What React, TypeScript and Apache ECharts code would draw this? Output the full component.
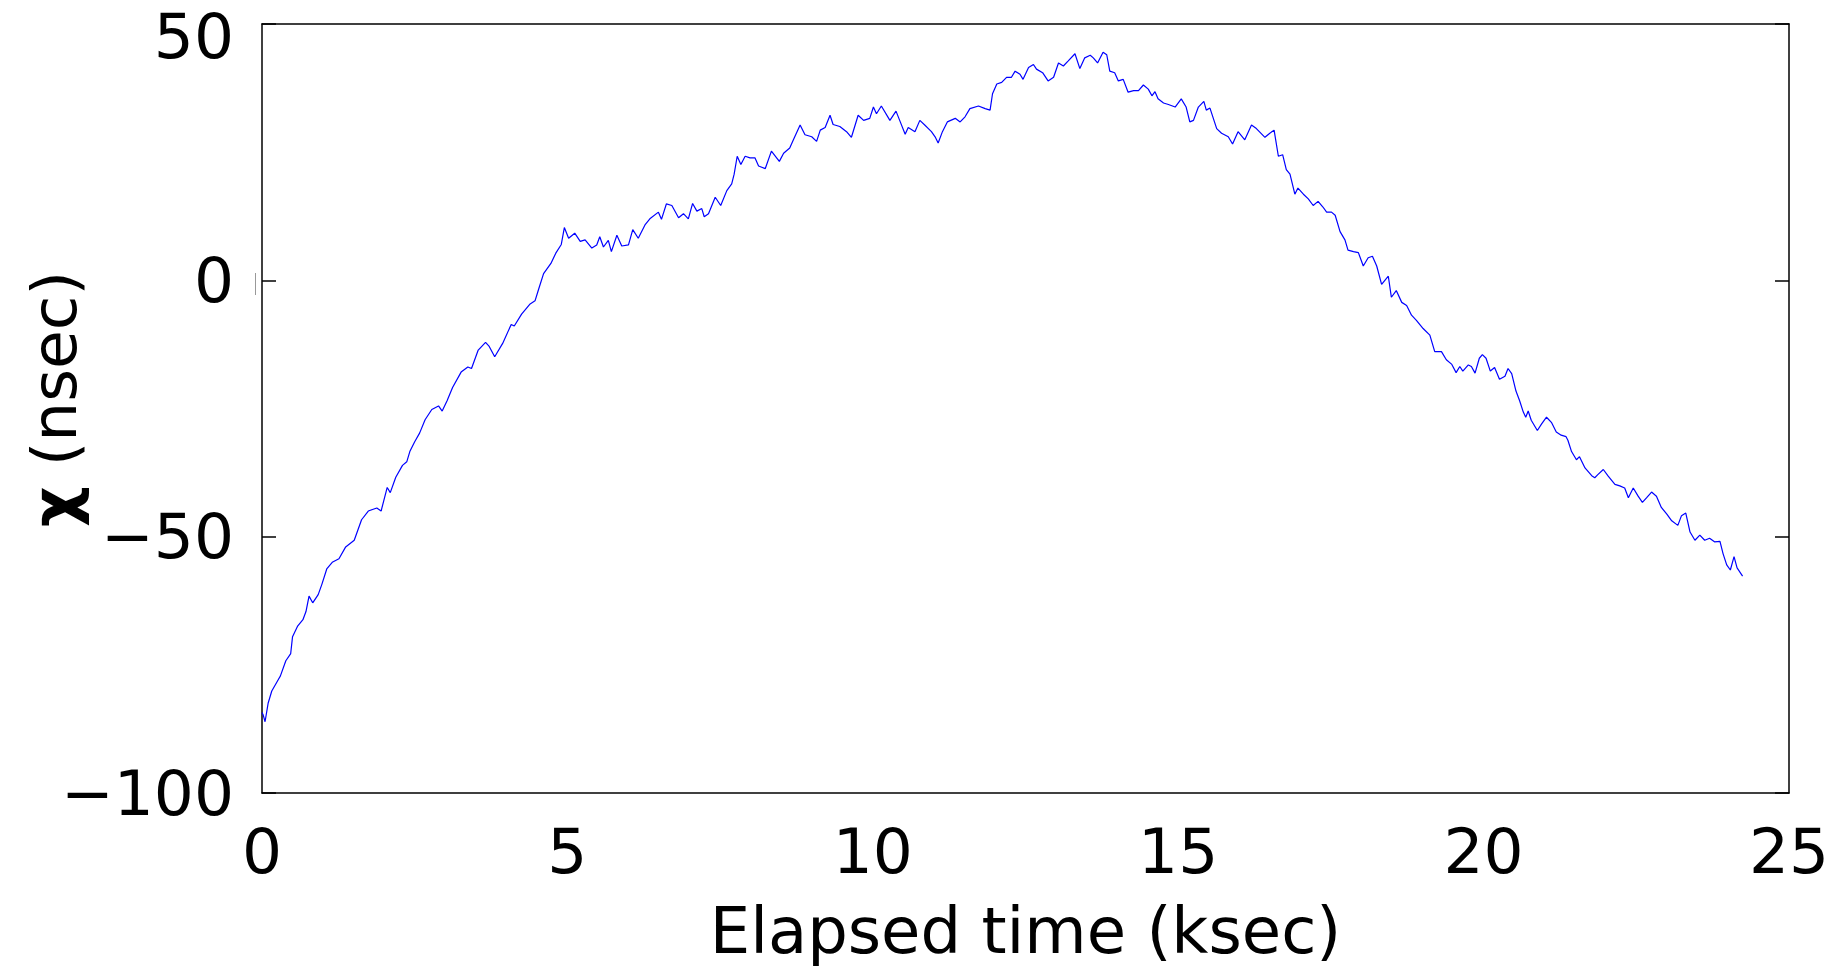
import React, { useEffect, useRef } from "react";
import * as echarts from "echarts";

const timeKsec = [
  0, 0.02, 0.05, 0.1, 0.16, 0.27, 0.3, 0.39, 0.47, 0.5, 0.58, 0.67, 0.72, 0.77, 0.83, 0.92, 0.98,
  1.06, 1.15, 1.26, 1.37, 1.51, 1.57, 1.63, 1.74, 1.88, 1.95, 2.05, 2.1, 2.19, 2.3, 2.37, 2.42,
  2.5, 2.58, 2.67, 2.78, 2.89, 2.95, 3.03, 3.12, 3.26, 3.37, 3.43, 3.54, 3.66, 3.72, 3.81, 3.94,
  4.08, 4.13, 4.25, 4.39, 4.47, 4.53, 4.61, 4.73, 4.81, 4.9,
  4.95, 5.02, 5.12, 5.21, 5.29, 5.4, 5.48, 5.53, 5.59, 5.67, 5.72, 5.81, 5.89, 6.0, 6.07, 6.16,
  6.27, 6.35, 6.49, 6.54, 6.62, 6.71, 6.82, 6.9, 6.98, 7.05, 7.12, 7.2, 7.24, 7.31, 7.42, 7.51,
  7.61, 7.69, 7.73, 7.78, 7.84, 7.91, 7.99, 8.07, 8.13, 8.24, 8.34, 8.47, 8.54, 8.64, 8.7, 8.81,
  8.89, 9.0, 9.08, 9.14, 9.22, 9.3, 9.35, 9.46, 9.57, 9.65, 9.76, 9.85, 9.95,
  10.01, 10.06, 10.14, 10.28, 10.38, 10.44, 10.53, 10.58, 10.69, 10.77, 10.85, 10.91, 10.96,
  11.02, 11.07, 11.14, 11.22, 11.35, 11.43, 11.51, 11.59, 11.73, 11.84, 11.92, 11.96, 12.03,
  12.11, 12.19, 12.27, 12.33, 12.41, 12.46, 12.55, 12.63, 12.68, 12.78, 12.87, 12.96, 13.04,
  13.12, 13.2, 13.31, 13.39, 13.47, 13.56, 13.61, 13.68, 13.77, 13.83, 13.88, 13.96, 14.02,
  14.1, 14.18, 14.27, 14.35, 14.43, 14.51, 14.57, 14.62, 14.67, 14.76,
  14.84, 14.95, 15.05, 15.13, 15.19, 15.25, 15.33, 15.42, 15.46, 15.52, 15.63, 15.71, 15.82,
  15.89, 15.98, 16.09, 16.2, 16.28, 16.42, 16.5, 16.57, 16.64, 16.71, 16.77, 16.83, 16.91,
  16.96, 17.05, 17.13, 17.21, 17.29, 17.37, 17.43, 17.51, 17.57, 17.65, 17.73, 17.78, 17.87,
  17.95, 18.03, 18.11, 18.18, 18.25, 18.33, 18.44, 18.49, 18.57, 18.66, 18.74, 18.82, 18.9,
  19.01, 19.12, 19.2, 19.31, 19.39, 19.48, 19.55,
  19.61, 19.66, 19.75, 19.8, 19.86, 19.93, 19.98, 20.04, 20.11, 20.18, 20.26, 20.35, 20.4,
  20.46, 20.53, 20.59, 20.65, 20.69, 20.73, 20.78, 20.88, 20.95, 21.03, 21.11, 21.19, 21.27,
  21.35, 21.38, 21.44, 21.52, 21.57, 21.66, 21.77, 21.82, 21.87, 21.96, 22.04, 22.15, 22.23,
  22.31, 22.37, 22.45, 22.53, 22.6, 22.67, 22.75, 22.83, 22.91, 23.0, 23.08, 23.18, 23.24,
  23.31, 23.38, 23.46, 23.54, 23.62, 23.7, 23.78, 23.87, 23.92, 23.98, 24.04, 24.1, 24.15, 24.24,
];

const chiNsec = [
  -84.3, -84.8, -86.1, -82.5, -80.1, -77.8, -77.2, -74.2, -72.8, -69.5, -67.5, -66.2, -64.6, -61.6,
  -62.9, -61.3, -59.3, -56.3, -55, -54.3, -52, -50.7, -48.7, -46.7, -45, -44.4, -45, -40.4, -41.4,
  -38.4, -36.1, -35.4, -33.4, -31.5, -29.8, -27.2, -25.2, -24.5, -25.5, -23.5, -20.9, -17.9, -16.9,
  -17.2, -13.6, -12.1, -12.9, -14.9, -12.3, -8.6, -8.9, -6.6, -4.6, -4, -1.7, 1.3, 3.3, 5.3, 7,
  10.3, 8.2, 9.2, 7.6, 7.9, 6.3, 6.9, 8.5, 6.5, 7.8, 5.6, 8.8, 6.7, 6.9, 9.9, 8.2,
  10.8, 12.0, 13.3, 11.9, 14.9, 14.6, 12.2, 13, 12.0, 15.0, 13.5, 14, 12.4, 13, 16.2, 14.6,
  17.5, 18.8, 20.7, 24.2, 22.6, 24.2, 23.9, 23.9, 22.3, 21.8, 25.2, 23.2, 24.8, 25.8, 27.4, 30.3,
  28.4, 28.0, 27.1, 29.3, 29.8, 32.2, 30.4, 30, 29, 27.9, 32.2, 31.2, 31.6,
  33.8, 32.5, 34, 31.2, 33, 31.2, 28.5, 29.8, 29, 31.2, 30.3, 29.6, 29,
  28, 26.8, 29, 30.9, 31.6, 30.9, 31.9, 33.5, 34, 33.5, 33.2, 36.4, 38.3,
  38.6, 39.6, 39.6, 40.8, 40.2, 39.2, 41.5, 42.1, 41.2, 40.5, 38.9, 39.6, 42.4,
  41.8, 42.8, 44.2, 41.3, 43.4, 43.9, 43.4, 42.4, 44.5, 44.0, 40.8, 40.5, 38.9,
  39.2, 36.7, 37.0, 37.0, 38.1, 37.3, 36.0, 36.8, 35.4, 34.6,
  34.3, 33.8, 35.4, 33.8, 30.9, 31.2, 33.8, 34.9, 33.2, 33.6, 29.6, 28.7, 28.0,
  26.6, 29.0, 27.4, 30.3, 29.6, 27.9, 28.7, 29.3, 24.2, 24.5, 21.6, 20.7, 16.8,
  18, 16.8, 15.9, 14.6, 15.4, 14.3, 13.3, 13.3, 12.7, 9.5, 7.9, 5.9, 5.6,
  5.4, 2.8, 4.4, 4.7, 2.8, -0.8, 0.8, -3.3, -2.0, -4.3, -4.9, -6.8, -7.8,
  -9.4, -10.7, -13.9, -13.9, -15.5, -16.4, -18.0,
  -16.8, -17.7, -16.5, -16.8, -18.1, -15.2, -14.5, -15.2, -17.7, -17.0, -19.3, -18.7, -17.2,
  -18.2, -21.6, -23.5, -25.7, -26.7, -25.5, -27.3, -29.3, -28, -26.7, -27.7, -29.6, -30.2,
  -30.5, -31.2, -33.4, -35, -34.4, -36.6, -38.1, -38.5, -37.9, -36.9, -38.2, -39.8, -40.1,
  -40.5, -42.4, -40.5, -42.1, -43.3, -42.4, -41.3, -42.1, -44.3, -45.6, -46.9, -47.8, -45.9,
  -45.4, -49.1, -50.7, -49.7, -50.7, -50.3, -51.0, -50.9, -53.3, -55.5, -56.5, -53.9, -56.1, -57.7,
];

const xTickStep = 5;
const xRange = [0, 25];
const yTickStep = 50;
const yRange = [-100, 50];
const xTitle = "Elapsed time (ksec)";
const yTitleSymbol = "χ";
const yTitleUnit = " (nsec)";

const FONT = "DejaVu Sans";

export default function App() {
  const ref = useRef<HTMLDivElement>(null);
  useEffect(() => {
    if (!ref.current) return;
    const chart = echarts.init(ref.current, null, { renderer: "svg" });
    const data = timeKsec.map((t, i) => [t, chiNsec[i]]);
    const axisLine = { show: true, onZero: false, lineStyle: { color: "#000", width: 1.5 } };
    const yFmt = (v: number) => {
      const s = v < 0 ? "\u2212" + Math.abs(v) : String(v);
      return v === yRange[1] ? "{top|" + s + "}" : s;
    };
    chart.setOption({
      animation: false,
      backgroundColor: "#ffffff",
      grid: { left: 262, top: 24, right: 57, bottom: 163, containLabel: false },
      xAxis: [
        {
          type: "value",
          min: xRange[0],
          max: xRange[1],
          interval: xTickStep,
          position: "bottom",
          axisLine,
          axisTick: { show: false },
          splitLine: { show: false },
          axisLabel: { fontFamily: FONT, fontSize: 63, color: "#000", margin: 27 },
          name: xTitle,
          nameLocation: "middle",
          nameGap: 106,
          nameTextStyle: { fontFamily: FONT, fontSize: 64, color: "#000" },
        },
        {
          type: "value",
          min: xRange[0],
          max: xRange[1],
          interval: xTickStep,
          position: "top",
          axisLine,
          axisTick: { show: false },
          splitLine: { show: false },
          axisLabel: { show: false },
        },
      ],
      yAxis: [
        {
          type: "value",
          min: yRange[0],
          max: yRange[1],
          interval: yTickStep,
          position: "left",
          axisLine,
          axisTick: { show: true, inside: true, length: 14, lineStyle: { color: "#000", width: 1.5 } },
          splitLine: { show: false },
          axisLabel: {
            fontFamily: FONT,
            fontSize: 63,
            color: "#000",
            margin: 28,
            formatter: yFmt,
            rich: { top: { fontFamily: FONT, fontSize: 63, color: "#000", padding: [24, 0, 0, 0] } },
          },
        },
        {
          type: "value",
          min: yRange[0],
          max: yRange[1],
          interval: yTickStep,
          position: "right",
          axisLine,
          axisTick: { show: true, inside: true, length: 14, lineStyle: { color: "#000", width: 1.5 } },
          splitLine: { show: false },
          axisLabel: { show: false },
        },
      ],
      series: [
        {
          type: "line",
          data,
          xAxisIndex: 0,
          yAxisIndex: 0,
          symbol: "none",
          showSymbol: false,
          lineStyle: { color: "#0000ff", width: 1.2 },
        },
      ],
      graphic: [
        {
          type: "text",
          x: 54,
          y: 399,
          rotation: Math.PI / 2,
          style: {
            text: "{b|" + yTitleSymbol + "}" + yTitleUnit,
            rich: { b: { fontWeight: "bold", fontSize: 63, fontFamily: FONT, fill: "#000" } },
            fontFamily: FONT,
            fontSize: 63,
            fill: "#000",
            align: "center",
            verticalAlign: "middle",
          },
        },
        {
          type: "line",
          shape: { x1: 255.5, y1: 273, x2: 255.5, y2: 295 },
          style: { stroke: "#999", lineWidth: 1 },
        },
      ],
    });
    return () => chart.dispose();
  }, []);
  return <div ref={ref} style={{ position: "fixed", left: 0, top: 0, width: 1846, height: 968 }} />;
}
